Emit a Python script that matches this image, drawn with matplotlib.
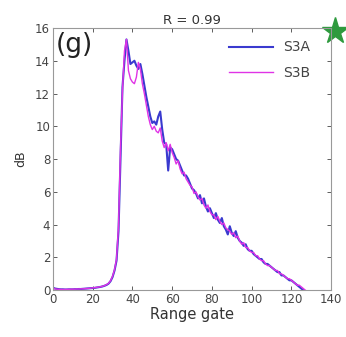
import matplotlib
matplotlib.use("Agg")
import matplotlib.pyplot as plt
import numpy as np

gates = list(range(0, 129))

s3a = [0.15, 0.10, 0.08, 0.06, 0.05, 0.05, 0.04, 0.04, 0.05, 0.05,
       0.05, 0.06, 0.06, 0.07, 0.07, 0.08, 0.09, 0.10, 0.11, 0.12,
       0.13, 0.14, 0.16, 0.18, 0.20, 0.23, 0.27, 0.32, 0.40, 0.55,
       0.80, 1.20, 1.8, 3.6, 8.0, 12.4, 14.0, 15.3, 14.6, 13.8,
       13.9, 14.0, 13.7, 13.5, 13.8, 13.2, 12.5, 11.8, 11.2, 10.6,
       10.2, 10.3, 10.1, 10.6, 10.9, 9.8, 9.0, 8.9, 7.3, 8.7,
       8.6, 8.3, 8.0, 7.9, 7.6, 7.3, 7.0, 7.0, 6.8, 6.5,
       6.2, 6.1, 5.9, 5.6, 5.8, 5.3, 5.6, 5.1, 4.8, 5.0,
       4.7, 4.4, 4.7, 4.3, 4.1, 4.4, 3.9, 3.7, 3.4, 3.9,
       3.5, 3.3, 3.6, 3.2, 3.0, 2.9, 2.7, 2.8, 2.5, 2.4,
       2.4, 2.2, 2.1, 2.0, 1.9, 1.9, 1.7, 1.6, 1.6, 1.5,
       1.4, 1.3, 1.2, 1.1, 1.1, 0.9, 0.9, 0.8, 0.7, 0.6,
       0.6, 0.5, 0.4, 0.3, 0.2, 0.1, 0.0, -0.1, -0.1]

s3b = [0.12, 0.08, 0.06, 0.05, 0.05, 0.04, 0.04, 0.05, 0.05, 0.06,
       0.06, 0.06, 0.07, 0.07, 0.08, 0.08, 0.09, 0.10, 0.11, 0.12,
       0.14, 0.15, 0.17, 0.19, 0.21, 0.24, 0.28, 0.34, 0.42, 0.58,
       0.85, 1.25, 1.9, 3.9, 8.6, 12.2, 14.6, 15.3, 13.4, 12.9,
       12.7, 12.6, 13.0, 13.9, 13.5, 12.6, 12.0, 11.3, 10.6, 10.1,
       9.8, 10.0, 9.7, 9.6, 9.9, 9.1, 8.7, 9.0, 8.5, 8.9,
       8.4, 8.1, 7.7, 7.9, 7.4, 7.1, 7.2, 6.8, 6.6, 6.4,
       6.3, 5.9, 6.0, 5.7, 5.5, 5.6, 5.2, 5.0, 5.2, 4.8,
       4.6, 4.6, 4.3, 4.5, 4.2, 4.0, 4.1, 3.8, 3.7, 3.6,
       3.4, 3.5, 3.2, 3.3, 3.0, 2.8, 2.9, 2.6, 2.6, 2.4,
       2.3, 2.3, 2.1, 2.1, 1.9, 1.8, 1.8, 1.6, 1.5, 1.5,
       1.4, 1.3, 1.2, 1.2, 1.0, 1.0, 0.9, 0.8, 0.7, 0.7,
       0.6, 0.5, 0.4, 0.3, 0.3, 0.2, 0.1, 0.0, -0.1]

fig = plt.figure(figsize=(3.46, 3.37), dpi=100)
ax = fig.add_axes([0.153, 0.139, 0.804, 0.778])

ax.plot(gates, s3a, color='#3a3acf', linewidth=1.5, label='S3A')
ax.plot(gates, s3b, color='#e033e6', linewidth=1.0, label='S3B')

ax.set_xlim(0, 140)
ax.set_ylim(0, 16)
ax.set_xticks(np.arange(0, 141, 20))
ax.set_yticks(np.arange(0, 17, 2))
ax.tick_params(direction='in', top=True, right=True, labelsize=8.5,
               colors='#444444', length=3, width=0.6, pad=2)
for sp in ax.spines.values():
    sp.set_color('#999999')
    sp.set_linewidth(0.8)

ax.set_xlabel("Range gate", fontsize=10.5, color='#333333', labelpad=1)
ax.set_ylabel("dB", fontsize=9, color='#333333', labelpad=6)
ax.set_title("R = 0.99", fontsize=9.5, color='#333333', pad=3)

ax.text(0.01, 0.985, "(g)", transform=ax.transAxes, fontsize=19,
        va='top', ha='left', color='#222222')

leg = ax.legend(loc='upper right', bbox_to_anchor=(0.97, 1.0), frameon=False,
                fontsize=10, handlelength=3.2, handletextpad=0.7,
                borderaxespad=0.5, labelspacing=0.85)
for t in leg.get_texts():
    t.set_color('#444444')

ax.plot([1.014], [0.99], marker='*', markersize=20, color='#2e9a3e',
        transform=ax.transAxes, clip_on=False)

fig.savefig("out.png", dpi=100)
